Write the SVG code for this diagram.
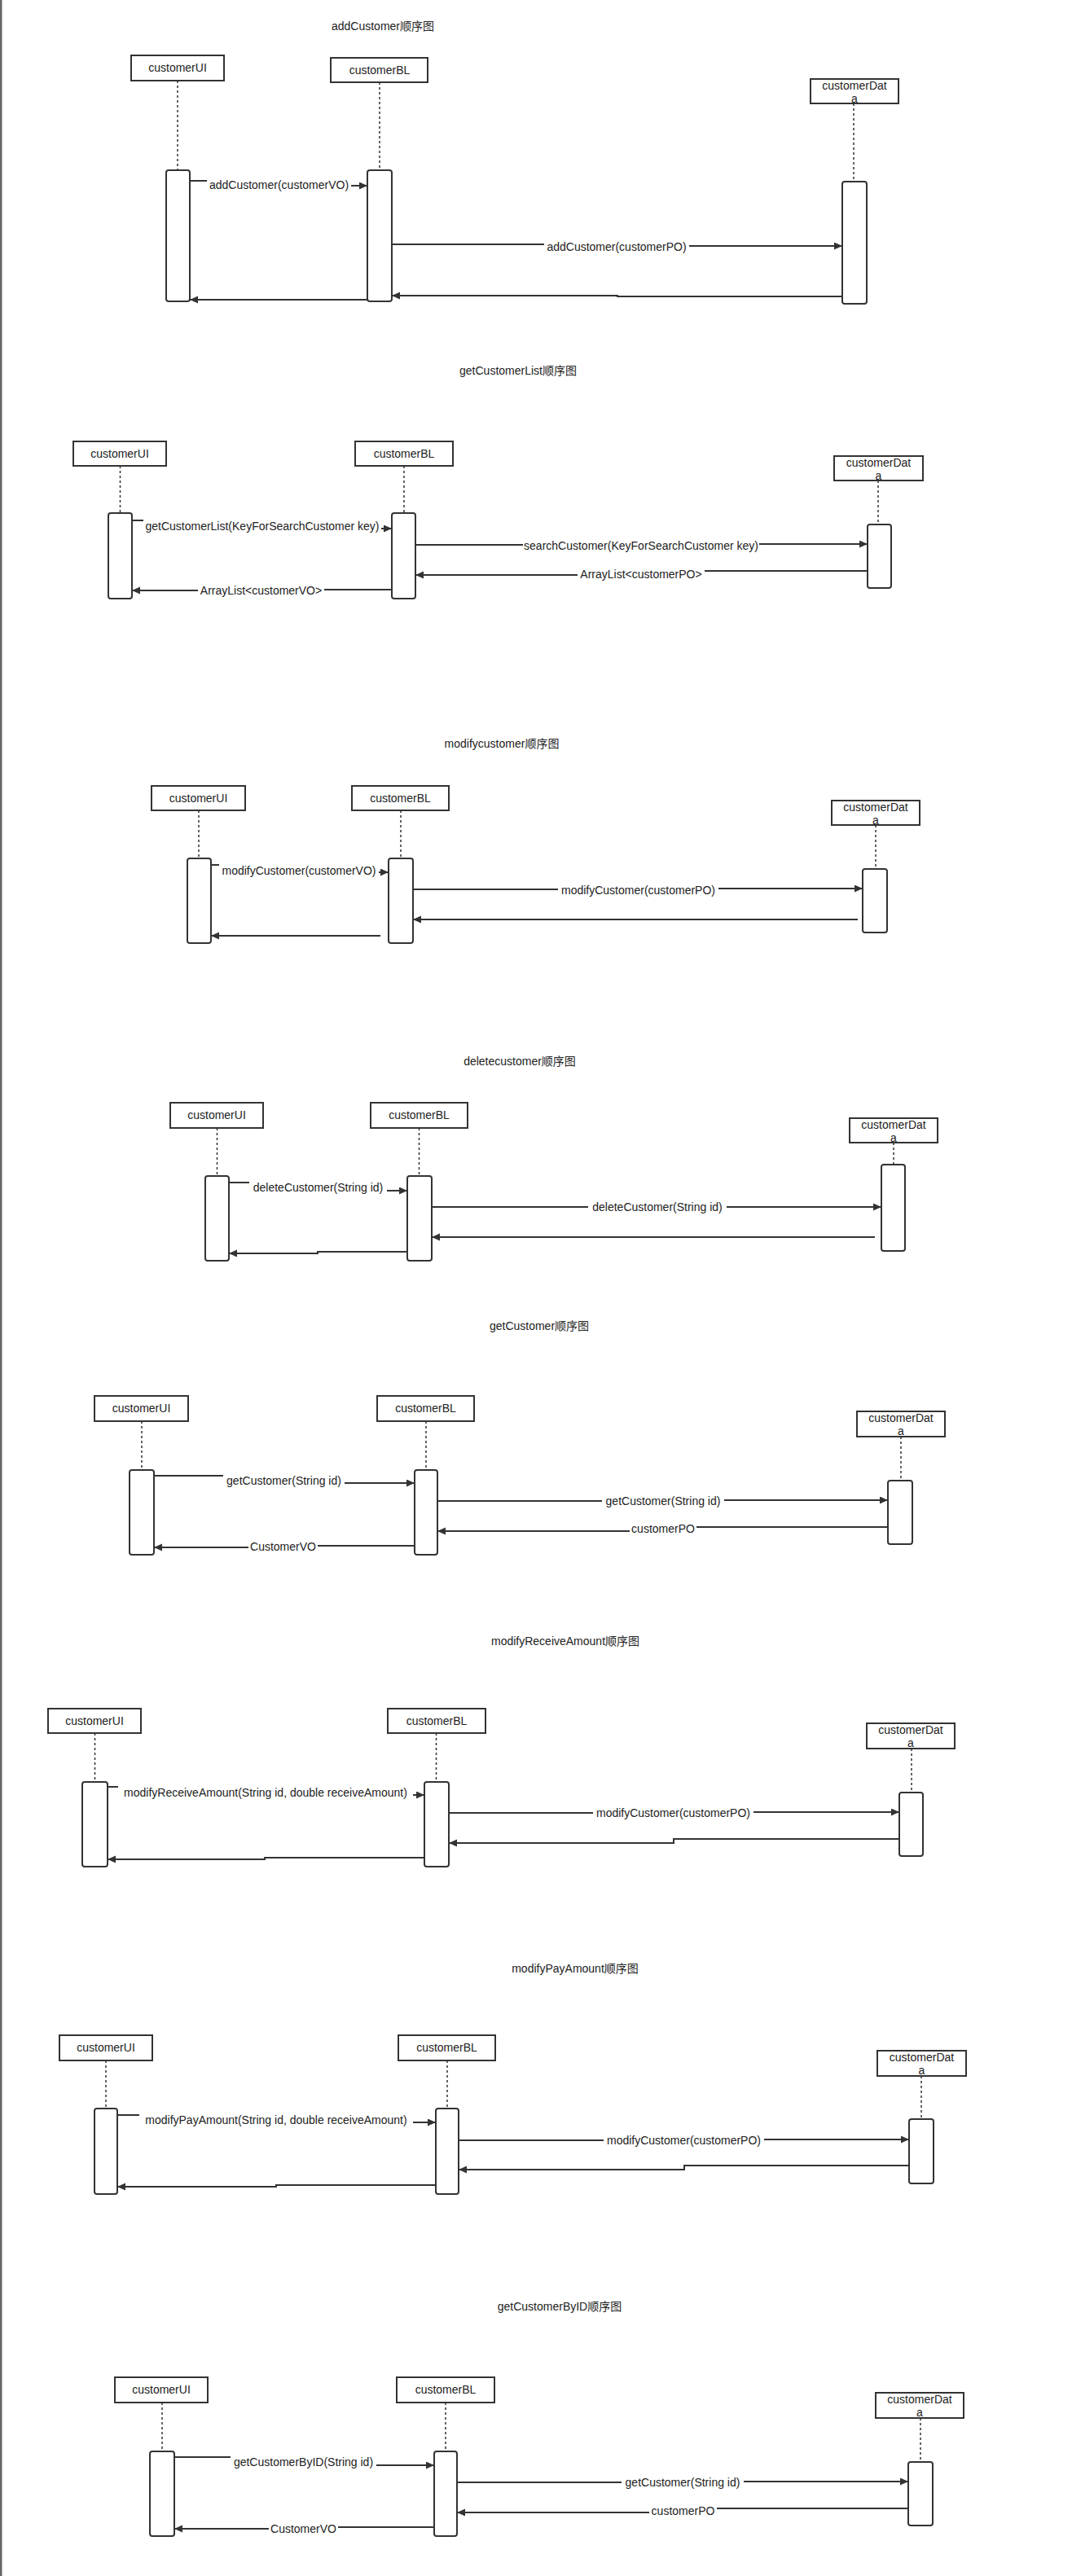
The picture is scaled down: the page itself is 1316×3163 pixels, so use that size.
<svg xmlns="http://www.w3.org/2000/svg" width="1316" height="3163" viewBox="0 0 1316 3163">
<style>
text{font-family:"Liberation Sans","Noto Sans CJK SC",sans-serif;font-size:14px;fill:#222}
.t{text-anchor:middle}
.l{text-anchor:middle}
.box{fill:#fff;stroke:#333;stroke-width:2}
.life{stroke:#333;stroke-width:1.5;stroke-dasharray:3 3;fill:none}
.act{fill:#fff;stroke:#333;stroke-width:2}
.msg{fill:none;stroke:#333;stroke-width:2;marker-end:url(#ah)}
</style>
<defs>
<marker id="ah" markerUnits="userSpaceOnUse" markerWidth="11" markerHeight="10" refX="10" refY="4.5" orient="auto"><path d="M0,0 L10,4.5 L0,9 z" fill="#333"/></marker>
</defs>
<rect x="0" y="0" width="1316" height="3163" fill="#fff"/>
<rect x="0" y="0" width="2.5" height="3163" fill="#666"/>

<!-- Diagram 1 -->
<g id="d1">
<text class="t" x="470" y="37">addCustomer顺序图</text>
<g id="d1-ui"><rect class="box" x="161" y="68" width="114" height="31"/><text class="t" x="218" y="88">customerUI</text><line class="life" x1="218" y1="99" x2="218" y2="209"/><rect class="act" x="204" y="209" width="29" height="161" rx="3"/></g>
<g id="d1-bl"><rect class="box" x="406" y="71" width="119" height="30"/><text class="t" x="466" y="91">customerBL</text><line class="life" x1="466" y1="101" x2="466" y2="209"/><rect class="act" x="451" y="209" width="30" height="161" rx="3"/></g>
<g id="d1-data"><rect class="box" x="995" y="97" width="108" height="30"/><text class="t" x="1049" y="110">customerDat</text><text class="t" x="1049" y="126">a</text><line class="life" x1="1048" y1="127" x2="1048" y2="223"/><rect class="act" x="1034" y="223" width="30" height="150" rx="3"/></g>
</g>
<!-- Diagram 2 -->
<g id="d2">
<text class="t" x="636" y="460">getCustomerList顺序图</text>
<g id="d2-ui"><rect class="box" x="90" y="542" width="114" height="30"/><text class="t" x="147" y="562">customerUI</text><line class="life" x1="147.5" y1="572" x2="147.5" y2="630"/><rect class="act" x="133" y="630" width="29" height="105" rx="3"/></g>
<g id="d2-bl"><rect class="box" x="436" y="542" width="120" height="30"/><text class="t" x="496" y="562">customerBL</text><line class="life" x1="496" y1="572" x2="496" y2="630"/><rect class="act" x="481" y="630" width="29" height="105" rx="3"/></g>
<g id="d2-data"><rect class="box" x="1024" y="560" width="109" height="30"/><text class="t" x="1078.5" y="573">customerDat</text><text class="t" x="1078.5" y="589">a</text><line class="life" x1="1078" y1="590" x2="1078" y2="644"/><rect class="act" x="1065" y="644" width="29" height="78" rx="3"/></g>
</g>
<!-- Diagram 3 -->
<g id="d3">
<text class="t" x="616" y="918">modifycustomer顺序图</text>
<g id="d3-ui"><rect class="box" x="186" y="965" width="115" height="30"/><text class="t" x="243.5" y="985">customerUI</text><line class="life" x1="244" y1="995" x2="244" y2="1054"/><rect class="act" x="230" y="1054" width="29" height="104" rx="3"/></g>
<g id="d3-bl"><rect class="box" x="432" y="965" width="119" height="30"/><text class="t" x="491.5" y="985">customerBL</text><line class="life" x1="492" y1="995" x2="492" y2="1054"/><rect class="act" x="477" y="1054" width="30" height="104" rx="3"/></g>
<g id="d3-data"><rect class="box" x="1021" y="983" width="108" height="30"/><text class="t" x="1075" y="996">customerDat</text><text class="t" x="1075" y="1012">a</text><line class="life" x1="1075" y1="1013" x2="1075" y2="1067"/><rect class="act" x="1059" y="1067" width="30" height="78" rx="3"/></g>
</g>
<!-- Diagram 4 -->
<g id="d4">
<text class="t" x="638" y="1308">deletecustomer顺序图</text>
<g id="d4-ui"><rect class="box" x="209" y="1354" width="114" height="31"/><text class="t" x="266" y="1374">customerUI</text><line class="life" x1="266.5" y1="1385" x2="266.5" y2="1444"/><rect class="act" x="252" y="1444" width="29" height="104" rx="3"/></g>
<g id="d4-bl"><rect class="box" x="455" y="1354" width="119" height="31"/><text class="t" x="514.5" y="1374">customerBL</text><line class="life" x1="514.5" y1="1385" x2="514.5" y2="1444"/><rect class="act" x="500" y="1444" width="30" height="104" rx="3"/></g>
<g id="d4-data"><rect class="box" x="1043" y="1373" width="108" height="30"/><text class="t" x="1097" y="1386">customerDat</text><text class="t" x="1097" y="1402">a</text><line class="life" x1="1097" y1="1403" x2="1097" y2="1430"/><rect class="act" x="1082" y="1430" width="29" height="106" rx="3"/></g>
</g>
<!-- Diagram 5 -->
<g id="d5">
<text class="t" x="662" y="1633">getCustomer顺序图</text>
<g id="d5-ui"><rect class="box" x="116" y="1714" width="115" height="31"/><text class="t" x="173.5" y="1734">customerUI</text><line class="life" x1="174" y1="1745" x2="174" y2="1805"/><rect class="act" x="159" y="1805" width="30" height="104" rx="3"/></g>
<g id="d5-bl"><rect class="box" x="463" y="1714" width="119" height="31"/><text class="t" x="522.5" y="1734">customerBL</text><line class="life" x1="523" y1="1745" x2="523" y2="1805"/><rect class="act" x="509" y="1805" width="28" height="104" rx="3"/></g>
<g id="d5-data"><rect class="box" x="1052" y="1733" width="108" height="31"/><text class="t" x="1106" y="1746">customerDat</text><text class="t" x="1106" y="1762">a</text><line class="life" x1="1106" y1="1764" x2="1106" y2="1818"/><rect class="act" x="1090" y="1818" width="30" height="78" rx="3"/></g>
</g>
<!-- Diagram 6 -->
<g id="d6">
<text class="t" x="694" y="2020">modifyReceiveAmount顺序图</text>
<g id="d6-ui"><rect class="box" x="59" y="2098" width="114" height="30"/><text class="t" x="116" y="2118">customerUI</text><line class="life" x1="116.5" y1="2128" x2="116.5" y2="2188"/><rect class="act" x="101" y="2188" width="31" height="104" rx="3"/></g>
<g id="d6-bl"><rect class="box" x="476" y="2098" width="120" height="30"/><text class="t" x="536" y="2118">customerBL</text><line class="life" x1="535.5" y1="2128" x2="535.5" y2="2188"/><rect class="act" x="521" y="2188" width="30" height="104" rx="3"/></g>
<g id="d6-data"><rect class="box" x="1064" y="2116" width="108" height="31"/><text class="t" x="1118" y="2129">customerDat</text><text class="t" x="1118" y="2145">a</text><line class="life" x1="1119" y1="2147" x2="1119" y2="2201"/><rect class="act" x="1104" y="2201" width="29" height="78" rx="3"/></g>
</g>
<!-- Diagram 7 -->
<g id="d7">
<text class="t" x="706" y="2422">modifyPayAmount顺序图</text>
<g id="d7-ui"><rect class="box" x="73" y="2499" width="114" height="31"/><text class="t" x="130" y="2519">customerUI</text><line class="life" x1="130" y1="2530" x2="130" y2="2589"/><rect class="act" x="116" y="2589" width="28" height="105" rx="3"/></g>
<g id="d7-bl"><rect class="box" x="489" y="2499" width="119" height="31"/><text class="t" x="548.5" y="2519">customerBL</text><line class="life" x1="549" y1="2530" x2="549" y2="2589"/><rect class="act" x="535" y="2589" width="28" height="105" rx="3"/></g>
<g id="d7-data"><rect class="box" x="1077" y="2518" width="109" height="31"/><text class="t" x="1131.5" y="2531">customerDat</text><text class="t" x="1131.5" y="2547">a</text><line class="life" x1="1131" y1="2549" x2="1131" y2="2602"/><rect class="act" x="1116" y="2602" width="30" height="79" rx="3"/></g>
</g>
<!-- Diagram 8 -->
<g id="d8">
<text class="t" x="687" y="2837">getCustomerByID顺序图</text>
<g id="d8-ui"><rect class="box" x="141" y="2919" width="114" height="31"/><text class="t" x="198" y="2939">customerUI</text><line class="life" x1="199" y1="2950" x2="199" y2="3010"/><rect class="act" x="184" y="3010" width="30" height="104" rx="3"/></g>
<g id="d8-bl"><rect class="box" x="487" y="2919" width="120" height="31"/><text class="t" x="547" y="2939">customerBL</text><line class="life" x1="547" y1="2950" x2="547" y2="3010"/><rect class="act" x="533" y="3010" width="28" height="104" rx="3"/></g>
<g id="d8-data"><rect class="box" x="1075" y="2938" width="108" height="31"/><text class="t" x="1129" y="2951">customerDat</text><text class="t" x="1129" y="2967">a</text><line class="life" x1="1130" y1="2969" x2="1130" y2="3023"/><rect class="act" x="1115" y="3023" width="30" height="78" rx="3"/></g>
</g>

<g id="connectors">
<!-- d1 -->
<path class="msg" d="M233,222 H254 M431,228 H451"/>
<text class="l" x="342.5" y="232">addCustomer(customerVO)</text>
<path class="msg" d="M481,300 H668 M846,302 H1034"/>
<text class="l" x="757" y="308">addCustomer(customerPO)</text>
<path class="msg" d="M1034,364 H758 V363 H481"/>
<path class="msg" d="M451,368 H233"/>
<!-- d2 -->
<path class="msg" d="M162,639 H176 M468,649 H481"/>
<text class="l" x="322" y="651">getCustomerList(KeyForSearchCustomer key)</text>
<path class="msg" d="M510,669 H642 M932,668 H1065"/>
<text class="l" x="787" y="675">searchCustomer(KeyForSearchCustomer key)</text>
<path class="msg" d="M1065,701 H865 M709,706 H510"/>
<text class="l" x="787" y="710">ArrayList&lt;customerPO&gt;</text>
<path class="msg" d="M481,724 H398 M243,725 H162"/>
<text class="l" x="320.5" y="730">ArrayList&lt;customerVO&gt;</text>
<!-- d3 -->
<path class="msg" d="M259,1062 H269 M465,1071 H477"/>
<text class="l" x="367" y="1074">modifyCustomer(customerVO)</text>
<path class="msg" d="M507,1092 H685 M882,1091 H1059"/>
<text class="l" x="783.5" y="1098">modifyCustomer(customerPO)</text>
<path class="msg" d="M1053,1129 H507"/>
<path class="msg" d="M467,1149 H259"/>
<!-- d4 -->
<path class="msg" d="M281,1452 H306 M475,1462 H500"/>
<text class="l" x="390.5" y="1463">deleteCustomer(String id)</text>
<path class="msg" d="M530,1482 H722 M892,1482 H1082"/>
<text class="l" x="807" y="1487">deleteCustomer(String id)</text>
<path class="msg" d="M1074,1519 H530"/>
<path class="msg" d="M500,1537 H390 V1539 H281"/>
<!-- d5 -->
<path class="msg" d="M189,1812 H274 M423,1821 H509"/>
<text class="l" x="348.5" y="1823">getCustomer(String id)</text>
<path class="msg" d="M537,1843 H739 M889,1842 H1090"/>
<text class="l" x="814" y="1848">getCustomer(String id)</text>
<path class="msg" d="M1090,1875 H855 M773,1880 H537"/>
<text class="l" x="814" y="1882">customerPO</text>
<path class="msg" d="M509,1898 H390 M305,1900 H189"/>
<text class="l" x="347.5" y="1904">CustomerVO</text>
<!-- d6 -->
<path class="msg" d="M132,2194 H145 M507,2204 H521"/>
<text class="l" x="326" y="2206">modifyReceiveAmount(String id, double receiveAmount)</text>
<path class="msg" d="M551,2226 H728 M925,2225 H1104"/>
<text class="l" x="826.5" y="2231">modifyCustomer(customerPO)</text>
<path class="msg" d="M1104,2258 H827 V2263 H551"/>
<path class="msg" d="M520,2281 H325 V2283 H132"/>
<!-- d7 -->
<path class="msg" d="M144,2597 H171 M507,2606 H535"/>
<text class="l" x="339" y="2608">modifyPayAmount(String id, double receiveAmount)</text>
<path class="msg" d="M563,2628 H741 M938,2627 H1116"/>
<text class="l" x="839.5" y="2633">modifyCustomer(customerPO)</text>
<path class="msg" d="M1116,2659 H840 V2664 H563"/>
<path class="msg" d="M535,2683 H339 V2685 H144"/>
<!-- d8 -->
<path class="msg" d="M214,3017 H283 M462,3027 H533"/>
<text class="l" x="372.5" y="3028">getCustomerByID(String id)</text>
<path class="msg" d="M561,3048 H763 M913,3047 H1115"/>
<text class="l" x="838" y="3053">getCustomer(String id)</text>
<path class="msg" d="M1115,3080 H880 M797,3085 H561"/>
<text class="l" x="838.5" y="3088">customerPO</text>
<path class="msg" d="M533,3103 H415 M330,3105 H214"/>
<text class="l" x="372.5" y="3110">CustomerVO</text>
</g>
</svg>
